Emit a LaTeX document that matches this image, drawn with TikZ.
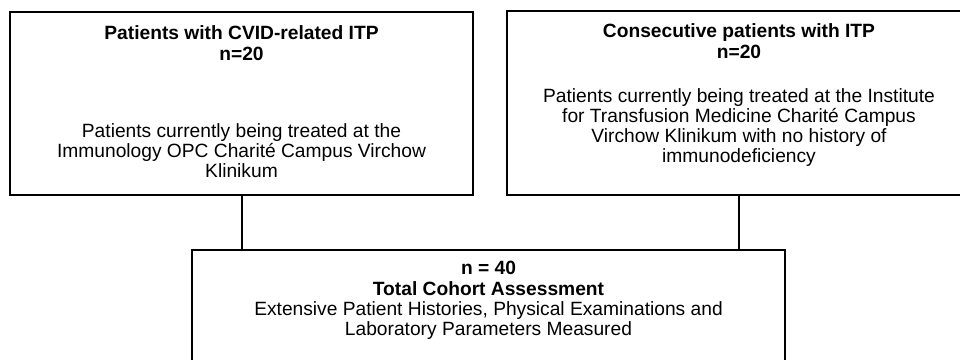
\documentclass[tikz,border=0pt]{standalone}
\usepackage{fontspec}
\setmainfont{Liberation Sans}
\usetikzlibrary{positioning}
\tikzset {
  % outlined cohort boxes
  box/.style = {draw, line width=1.5pt, inner sep=0pt},
  % bold heading lines
  head/.style = {font=\fontsize{14.4}{15.7}\selectfont\bfseries, align=center, inner sep=0pt},
  % plain description lines
  desc/.style = {font=\fontsize{14.4}{15}\selectfont, align=center, inner sep=0pt},
  % joining lines between boxes
  link/.style = {line width=1.5pt},
}

\begin{document}
\begin{tikzpicture}[x=0.75pt, y=-0.75pt]
  \useasboundingbox (0,0) rectangle (960,360);
  \clip (0,0) rectangle (960,360);

  % the two source cohorts
  \node[box, minimum width=347.25pt, minimum height=137.25pt] (cvid) at (241.5,103.5) {};
  \node[box, minimum width=348pt, minimum height=138pt] (itp) at (739,103) {};
  % the pooled cohort
  \node[box, minimum width=444.75pt, minimum height=90pt] (total) at (488.5,310) {};

  \node[head, anchor=north] (cvidhead) at (241.5,25) {Patients with CVID-related ITP\\n=20};
  \node[desc, anchor=north] (cviddesc) at (241.5,123) {Patients currently being treated at the\\Immunology OPC Charité Campus Virchow\\Klinikum};

  \node[head, anchor=north] (itphead) at (739,23) {Consecutive patients with ITP\\n=20};
  \node[desc, anchor=north] (itpdesc) at (739,88) {Patients currently being treated at the Institute\\for Transfusion Medicine Charité Campus\\Virchow Klinikum with no history of\\immunodeficiency};

  \node[head, anchor=north] (totalhead) at (488.5,261) {n = 40\\Total Cohort Assessment};
  \node[desc, below=4pt of totalhead] (totaldesc) {Extensive Patient Histories, Physical Examinations and\\Laboratory Parameters Measured};

  \draw[link] (cvid.south) -- (cvid.south |- total.north);
  \draw[link] (itp.south) -- (itp.south |- total.north);
\end{tikzpicture}
\end{document}
